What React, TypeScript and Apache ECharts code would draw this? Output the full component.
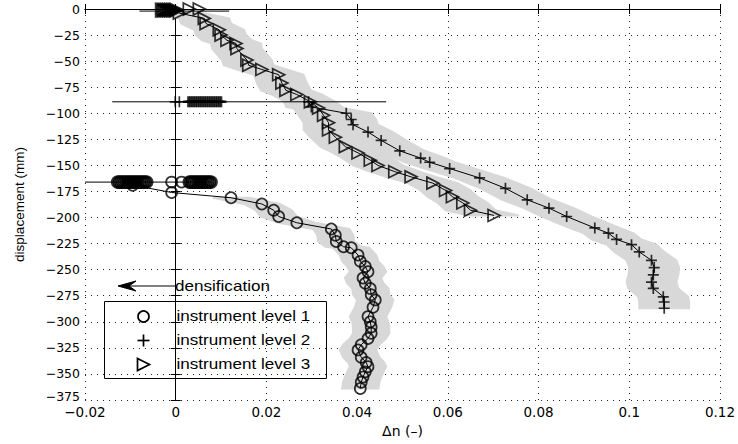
import React, { useEffect, useRef } from 'react';
import * as echarts from 'echarts';

// ---- data (Δn, displacement mm) ----
const level1Start: [number, number][] = [
  [-0.0128, -166], [-0.0124, -166], [-0.012, -166], [-0.0116, -166], [-0.0112, -166], [-0.0108, -166],
  [-0.0104, -166], [-0.01, -166], [-0.0096, -166], [-0.0092, -166], [-0.0088, -166], [-0.0084, -166],
  [-0.008, -166], [-0.0076, -166], [-0.0072, -166], [-0.0068, -166], [-0.0064, -166],
  [0.003, -166], [0.0034, -166], [0.0038, -166], [0.0042, -166], [0.0046, -166], [0.005, -166],
  [0.0054, -166], [0.0058, -166], [0.0062, -166], [0.0066, -166], [0.007, -166], [0.0074, -166], [0.0078, -166],
];
const level1Single: [number, number][] = [[-0.0009, -166], [0.0013, -166]];
const level1Curve: [number, number][] = [
  [-0.0095, -169], [-0.0009, -176], [0.0122, -181], [0.019, -187], [0.0216, -193], [0.0227, -199],
  [0.0267, -205], [0.0343, -211], [0.0352, -217], [0.0354, -223], [0.037, -228], [0.0387, -229],
  [0.0402, -236], [0.0407, -242], [0.0418, -247], [0.0424, -252], [0.0413, -258], [0.0418, -263],
  [0.0429, -268], [0.0431, -274], [0.044, -279], [0.0435, -286], [0.0424, -295], [0.0429, -300],
  [0.0431, -305], [0.0431, -311], [0.0424, -316], [0.0409, -322], [0.0402, -327], [0.0409, -334],
  [0.042, -339], [0.0424, -343], [0.0418, -348], [0.0413, -353], [0.0409, -358], [0.0407, -364],
];
const level1Ref: [number, number][] = [[-0.02, -166], [0.0078, -166]];

const level2Single: [number, number][] = [[-0.0001, -89], [0.0008, -89]];
const level2Start: [number, number][] = [
  [0.0028, -89], [0.0032, -89], [0.0036, -89], [0.004, -89], [0.0044, -89], [0.0048, -89], [0.0052, -89],
  [0.0056, -89], [0.006, -89], [0.0064, -89], [0.0068, -89], [0.0072, -89], [0.0076, -89], [0.008, -89],
  [0.0084, -89], [0.0088, -89], [0.0092, -89], [0.0096, -89], [0.01, -89],
];
const level2Curve: [number, number][] = [
  [0.0293, -89], [0.0299, -94], [0.0376, -100], [0.0387, -106], [0.0391, -111], [0.0424, -118],
  [0.0453, -126], [0.0494, -136], [0.054, -143], [0.056, -147], [0.0604, -153], [0.067, -162],
  [0.0727, -172], [0.0775, -183], [0.0823, -191], [0.0862, -199], [0.0924, -210], [0.0954, -215],
  [0.0972, -221], [0.1005, -226], [0.1022, -233], [0.1049, -241], [0.1055, -248], [0.1053, -255],
  [0.1049, -262], [0.1053, -268], [0.1075, -276], [0.1077, -281], [0.1077, -287],
];
const level2Ref: [number, number][] = [[-0.014, -89], [0.0464, -89]];

const level3Start: [number, number][] = [
  [-0.003, -1], [-0.0026, -1], [-0.0022, -1], [-0.0018, -1], [-0.0014, -1], [-0.001, -1],
  [-0.0006, -1], [-0.0002, -1], [0.0002, -1],
];
const level3Single: [number, number][] = [[0.003, 0], [0.0052, 0]];
const level3Curve: [number, number][] = [
  [0.0008, -4], [0.0063, -9], [0.0067, -14], [0.0096, -20], [0.01, -25], [0.0113, -30], [0.0133, -33],
  [0.0135, -38], [0.0157, -49], [0.0161, -54], [0.019, -58], [0.0227, -63], [0.0234, -71], [0.0243, -78],
  [0.0267, -82], [0.0297, -89], [0.0315, -95], [0.0326, -102], [0.0337, -109], [0.0337, -116],
  [0.0352, -123], [0.0374, -132], [0.0402, -138], [0.0429, -145], [0.0446, -150], [0.0483, -156],
  [0.0519, -161], [0.0567, -167], [0.0595, -174], [0.061, -180], [0.0633, -186], [0.065, -193], [0.0702, -198],
];
const level3Ref: [number, number][] = [[-0.008, -2], [0.0118, -2]];

const legendLabels = ['instrument level 1', 'instrument level 2', 'instrument level 3'];
const annotationText = 'densification';
const xAxisName = 'Δn (–)';
const yAxisName = 'displacement (mm)';

const FONT = '"Liberation Sans", Arial, Helvetica, sans-serif';
const WIDE = '"DejaVu Sans", Verdana, sans-serif';
const PLUS = 'path://M0,6H12M6,0V12';
const TRI = 'path://M0,0L12,6L0,12Z';
const BAND = '#d8d8d8';

function bandSeries(points: [number, number][], halfWidth: number) {
  return {
    type: 'custom',
    data: [[0, 0]],
    clip: true,
    silent: true,
    z: 1,
    renderItem: (_p: any, api: any) => {
      const left = points.map((p) => api.coord([p[0] - halfWidth, p[1]]));
      const right = points.slice().reverse().map((p) => api.coord([p[0] + halfWidth, p[1]]));
      return {
        type: 'polygon',
        shape: { points: left.concat(right) },
        style: { fill: BAND, stroke: BAND, lineWidth: 2 },
      };
    },
  };
}

function lineSeries(points: [number, number][]) {
  return {
    type: 'line',
    data: points,
    showSymbol: false,
    symbol: 'none',
    lineStyle: { color: '#000', width: 1 },
    z: 3,
    silent: true,
  };
}

function markerSeries(points: [number, number][], symbol: string, size: number, bw = 1.7) {
  return {
    type: 'scatter',
    data: points,
    symbol,
    symbolSize: size,
    itemStyle: { color: 'rgba(0,0,0,0)', borderColor: '#000', borderWidth: bw },
    z: 4,
    silent: true,
  };
}

const fmtY = (v: number) => {
  const s = (v < 0 ? '−' : '') + Math.abs(v);
  return v === -375 ? `{low|${s}}` : s;
};
const fmtX = (v: number) => {
  const r = Math.round(v * 100) / 100;
  return (r < 0 ? '−' : '') + String(Math.abs(r));
};

const txt = (x: number, y: number, text: string) => ({
  type: 'text',
  x,
  y,
  scaleX: 1.22,
  style: { text, fill: '#000', fontSize: 14, fontFamily: FONT, verticalAlign: 'middle', align: 'left' },
});

export default function App() {
  const ref = useRef<HTMLDivElement>(null);
  useEffect(() => {
    if (!ref.current) return;
    const chart = echarts.init(ref.current, undefined, { renderer: 'svg' });
    const axisCommon = {
      axisLine: { show: true, lineStyle: { color: '#000', width: 1 } },
      axisTick: { show: true, inside: true, length: 5, lineStyle: { color: '#000' } },
    };
    chart.setOption({
      animation: false,
      backgroundColor: '#fff',
      textStyle: { fontFamily: FONT },
      grid: { left: 85, right: 14, top: 9, bottom: 44, show: false },
      xAxis: [
        {
          type: 'value', min: -0.02, max: 0.12, interval: 0.02, position: 'bottom',
          ...axisCommon,
          axisLabel: { color: '#000', fontSize: 13.5, fontFamily: WIDE, margin: 5, formatter: fmtX },
          splitLine: { show: true, lineStyle: { color: '#222', type: [1, 5], width: 1 } },
          name: xAxisName, nameLocation: 'middle', nameGap: 16,
          nameTextStyle: { color: '#000', fontSize: 14, fontFamily: WIDE },
        },
        {
          type: 'value', min: -0.02, max: 0.12, interval: 0.02, position: 'top',
          ...axisCommon, axisLabel: { show: false }, splitLine: { show: false },
        },
      ],
      yAxis: [
        {
          type: 'value', min: -375, max: 0, interval: 25, position: 'left',
          ...axisCommon,
          axisLabel: {
            color: '#000', fontSize: 12.5, fontFamily: WIDE, margin: 5, formatter: fmtY,
            rich: { low: { fontSize: 12.5, fontFamily: WIDE, color: '#000', padding: [0, 0, 7, 0] } },
          },
          splitLine: { show: true, lineStyle: { color: '#222', type: [1, 5], width: 1 } },
          name: yAxisName, nameLocation: 'middle', nameGap: 59,
          nameTextStyle: { color: '#000', fontSize: 13.5, fontFamily: FONT },
        },
        {
          type: 'value', min: -375, max: 0, interval: 25, position: 'right',
          ...axisCommon, axisLabel: { show: false }, splitLine: { show: false },
        },
      ],
      series: [
        bandSeries(level1Curve.filter((p) => p[1] <= -180), 0.004),
        bandSeries(level2Curve, 0.0055),
        bandSeries(level3Curve, 0.0055),
        lineSeries(level1Ref),
        lineSeries(level2Ref),
        lineSeries(level3Ref),
        lineSeries(level1Curve),
        lineSeries(level2Curve),
        lineSeries(level3Curve),
        markerSeries(level1Start, 'circle', 11, 2.6),
        markerSeries(level1Single, 'circle', 11),
        markerSeries(level1Curve, 'circle', 11),
        markerSeries(level2Single, PLUS, 11),
        markerSeries(level2Start, PLUS, 11, 2.6),
        markerSeries(level2Curve, PLUS, 11),
        markerSeries(level3Start, TRI, 12, 2.6),
        markerSeries(level3Single, TRI, 12),
        markerSeries(level3Curve, TRI, 12),
      ],
      graphic: [
        {
          type: 'group', left: 104, top: 301, z: 10,
          children: [
            { type: 'rect', shape: { x: 0, y: 0, width: 222, height: 77 }, style: { fill: '#fff', stroke: '#000', lineWidth: 1 } },
            { type: 'circle', shape: { cx: 39, cy: 15, r: 5.5 }, style: { fill: 'none', stroke: '#000', lineWidth: 1.7 } },
            { type: 'line', shape: { x1: 33, y1: 39, x2: 45, y2: 39 }, style: { stroke: '#000', lineWidth: 1.7 } },
            { type: 'line', shape: { x1: 39, y1: 33, x2: 39, y2: 45 }, style: { stroke: '#000', lineWidth: 1.7 } },
            { type: 'polygon', shape: { points: [[33, 57], [45, 63], [33, 69]] }, style: { fill: 'none', stroke: '#000', lineWidth: 1.7 } },
            txt(72, 15, legendLabels[0]),
            txt(72, 39, legendLabels[1]),
            txt(72, 63, legendLabels[2]),
          ],
        },
        { type: 'line', z: 10, shape: { x1: 128, y1: 286, x2: 175, y2: 286 }, style: { stroke: '#000', lineWidth: 1 } },
        { type: 'polygon', z: 10, shape: { points: [[118, 286], [136, 281], [129, 286], [136, 291]] }, style: { fill: '#000', stroke: '#000', lineWidth: 1 } },
        { ...txt(175, 286, annotationText), z: 10 },
      ],
    });
    return () => chart.dispose();
  }, []);
  return <div ref={ref} style={{ width: 738, height: 444, position: 'absolute', left: 0, top: 0 }} />;
}
